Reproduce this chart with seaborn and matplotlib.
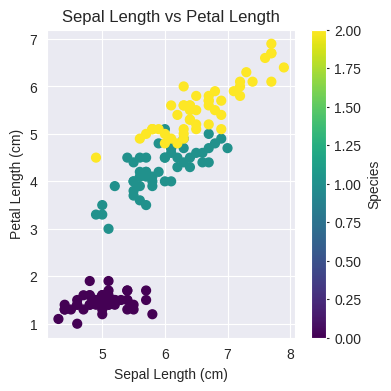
import numpy as np
import matplotlib
matplotlib.use("Agg")
import matplotlib.pyplot as plt
import seaborn as sns

sns.set_style("darkgrid")
plt.rcParams['font.family'] = ['Liberation Sans', 'DejaVu Sans']

# iris: sepal length / petal length, species code 0,1,2
sepal_setosa = [5.1, 4.9, 4.7, 4.6, 5.0, 5.4, 4.6, 5.0, 4.4, 4.9, 5.4, 4.8, 4.8, 4.3, 5.8, 5.7, 5.4, 5.1, 5.7, 5.1,
                5.4, 5.1, 4.6, 5.1, 4.8, 5.0, 5.0, 5.2, 5.2, 4.7, 4.8, 5.4, 5.2, 5.5, 4.9, 5.0, 5.5, 4.9, 4.4, 5.1,
                5.0, 4.5, 4.4, 5.0, 5.1, 4.8, 5.1, 4.6, 5.3, 5.0]
petal_setosa = [1.4, 1.4, 1.3, 1.5, 1.4, 1.7, 1.4, 1.5, 1.4, 1.5, 1.5, 1.6, 1.4, 1.1, 1.2, 1.5, 1.3, 1.4, 1.7, 1.5,
                1.7, 1.5, 1.0, 1.7, 1.9, 1.6, 1.6, 1.5, 1.4, 1.6, 1.6, 1.5, 1.5, 1.4, 1.5, 1.2, 1.3, 1.5, 1.3, 1.5,
                1.3, 1.3, 1.3, 1.6, 1.9, 1.4, 1.6, 1.4, 1.5, 1.4]
sepal_versicolor = [7.0, 6.4, 6.9, 5.5, 6.5, 5.7, 6.3, 4.9, 6.6, 5.2, 5.0, 5.9, 6.0, 6.1, 5.6, 6.7, 5.6, 5.8, 6.2, 5.6,
                    5.9, 6.1, 6.3, 6.1, 6.4, 6.6, 6.8, 6.7, 6.0, 5.7, 5.5, 5.5, 5.8, 6.0, 5.4, 6.0, 6.7, 6.3, 5.6, 5.5,
                    5.5, 6.1, 5.8, 5.0, 5.6, 5.7, 5.7, 6.2, 5.1, 5.7]
petal_versicolor = [4.7, 4.5, 4.9, 4.0, 4.6, 4.5, 4.7, 3.3, 4.6, 3.9, 3.5, 4.2, 4.0, 4.7, 3.6, 4.4, 4.5, 4.1, 4.5, 3.9,
                    4.8, 4.0, 4.9, 4.7, 4.3, 4.4, 4.8, 5.0, 4.5, 3.5, 3.8, 3.7, 3.9, 5.1, 4.5, 4.5, 4.7, 4.4, 4.1, 4.0,
                    4.4, 4.6, 4.0, 3.3, 4.2, 4.2, 4.2, 4.3, 3.0, 4.1]
sepal_virginica = [6.3, 5.8, 7.1, 6.3, 6.5, 7.6, 4.9, 7.3, 6.7, 7.2, 6.5, 6.4, 6.8, 5.7, 5.8, 6.4, 6.5, 7.7, 7.7, 6.0,
                   6.9, 5.6, 7.7, 6.3, 6.7, 7.2, 6.2, 6.1, 6.4, 7.2, 7.4, 7.9, 6.4, 6.3, 6.1, 7.7, 6.3, 6.4, 6.0, 6.9,
                   6.7, 6.9, 5.8, 6.8, 6.7, 6.7, 6.3, 6.5, 6.2, 5.9]
petal_virginica = [6.0, 5.1, 5.9, 5.6, 5.8, 6.6, 4.5, 6.3, 5.8, 6.1, 5.1, 5.3, 5.5, 5.0, 5.1, 5.3, 5.5, 6.7, 6.9, 5.0,
                   5.7, 4.9, 6.7, 4.9, 5.7, 6.0, 4.8, 4.9, 5.6, 5.8, 6.1, 6.4, 5.6, 5.1, 5.6, 6.1, 5.6, 5.5, 4.8, 5.4,
                   5.6, 5.1, 5.1, 5.9, 5.7, 5.2, 5.0, 5.2, 5.4, 5.1]

sepal = np.array(sepal_setosa + sepal_versicolor + sepal_virginica)
petal = np.array(petal_setosa + petal_versicolor + petal_virginica)
species = np.repeat([0, 1, 2], 50)

fig = plt.figure(figsize=(4, 4), dpi=100)
sc = plt.scatter(sepal, petal, c=species, cmap='viridis', s=40)
cbar = plt.colorbar(sc, label='Species')
cbar.ax.tick_params(length=2.5, width=0.8, color='.15')
plt.title('Sepal Length vs Petal Length')
plt.xlabel('Sepal Length (cm)')
plt.ylabel('Petal Length (cm)')
plt.savefig('out.png', dpi=100, bbox_inches='tight')
